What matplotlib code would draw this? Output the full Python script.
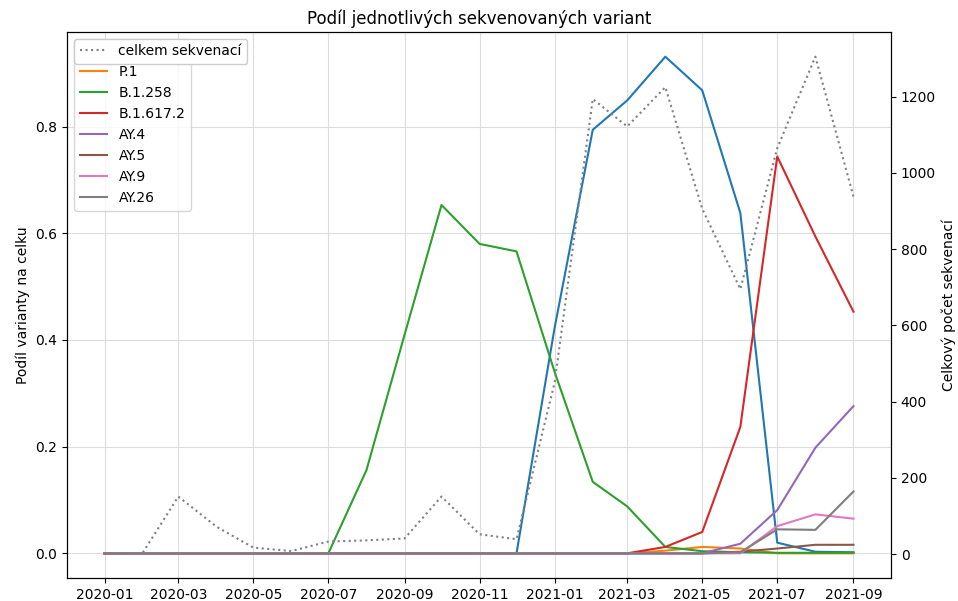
import pandas as pd
import matplotlib
matplotlib.use('Agg')
import matplotlib.pyplot as plt

# měsíce 2020-01 .. 2021-09
months = pd.date_range('2020-01-01', '2021-09-01', freq='MS')

# celkový počet sekvenací za měsíc
total = [2, 3, 151, 72, 17, 8, 33, 36, 41, 151, 52, 39,
         450, 1194, 1122, 1225, 906, 695, 1065, 1305, 938]

# podíly variant
b117 = [0, 0, 0, 0, 0, 0, 0, 0, 0, 0, 0, 0,
        0.423, 0.794, 0.849, 0.931, 0.868, 0.638, 0.02, 0.003, 0.002]
p1 = [0, 0, 0, 0, 0, 0, 0, 0, 0, 0, 0, 0,
      0, 0, 0, 0.005, 0.012, 0.009, 0, 0, 0]
b1258 = [0, 0, 0, 0, 0, 0, 0, 0.156, 0.41, 0.653, 0.58, 0.566,
         0.34, 0.134, 0.088, 0.012, 0.004, 0.002, 0.001, 0.001, 0.001]
b16172 = [0, 0, 0, 0, 0, 0, 0, 0, 0, 0, 0, 0,
          0, 0, 0, 0.012, 0.04, 0.237, 0.744, 0.594, 0.453]
ay4 = [0, 0, 0, 0, 0, 0, 0, 0, 0, 0, 0, 0,
       0, 0, 0, 0, 0, 0.018, 0.081, 0.198, 0.276]
ay5 = [0, 0, 0, 0, 0, 0, 0, 0, 0, 0, 0, 0,
       0, 0, 0, 0, 0, 0.003, 0.009, 0.016, 0.016]
ay9 = [0, 0, 0, 0, 0, 0, 0, 0, 0, 0, 0, 0,
       0, 0, 0, 0, 0, 0, 0.051, 0.073, 0.065]
ay26 = [0, 0, 0, 0, 0, 0, 0, 0, 0, 0, 0, 0,
        0, 0, 0, 0, 0, 0.002, 0.045, 0.044, 0.116]

variants = {
    'B.1.1.7': b117,
    'P.1': p1,
    'B.1.258': b1258,
    'B.1.617.2': b16172,
    'AY.4': ay4,
    'AY.5': ay5,
    'AY.9': ay9,
    'AY.26': ay26,
}

fig, ax = plt.subplots(figsize=(9.58, 6.01), dpi=100)
for name, vals in variants.items():
    ax.plot(months, vals, label=name)
ax.set_ylabel('Podíl varianty na celku')
ax.grid(True, color='#dddddd')
ax.legend(loc='upper left')

ax2 = ax.twinx()
ax2.plot(months, total, ':', color='gray', label='celkem sekvenací')
ax2.set_ylabel('Celkový počet sekvenací')
ax2.legend(loc='upper left', framealpha=1)

plt.title('Podíl jednotlivých sekvenovaných variant')
fig.subplots_adjust(left=0.07, right=0.93, top=0.947, bottom=0.038)
plt.savefig('out.png')
